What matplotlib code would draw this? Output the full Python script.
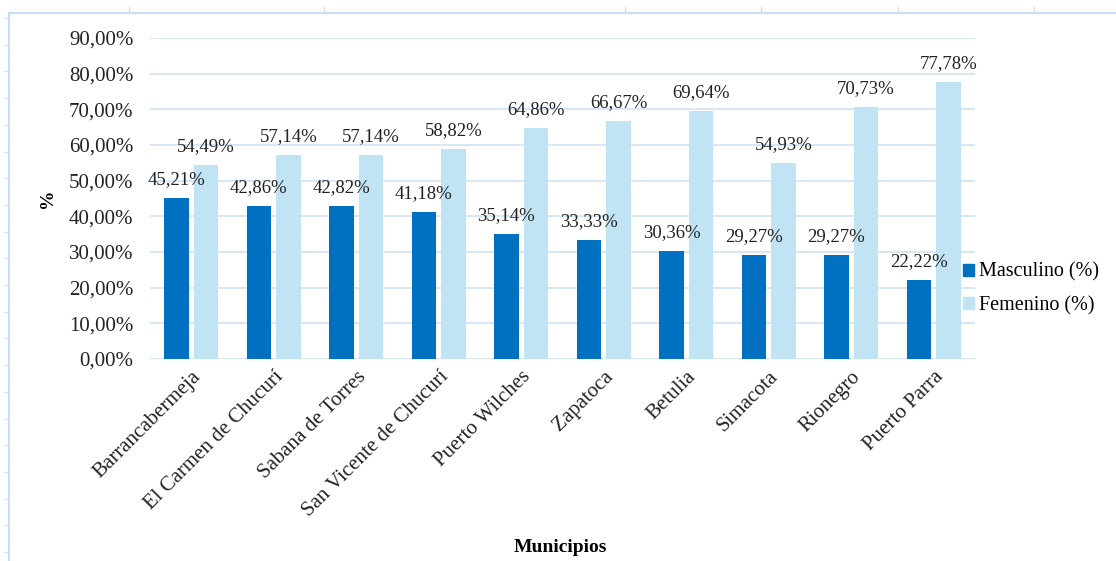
import matplotlib
matplotlib.use("Agg")
import matplotlib.pyplot as plt
from matplotlib.lines import Line2D
from matplotlib.patches import Patch
import numpy as np

municipios = ["Barrancabermeja", "El Carmen de Chucurí", "Sabana de Torres",
              "San Vicente de Chucurí", "Puerto Wilches", "Zapatoca", "Betulia",
              "Simacota", "Rionegro", "Puerto Parra"]
masculino = [45.21, 42.86, 42.82, 41.18, 35.14, 33.33, 30.36, 29.27, 29.27, 22.22]
femenino = [54.49, 57.14, 57.14, 58.82, 64.86, 66.67, 69.64, 54.93, 70.73, 77.78]
yticks = [0, 10, 20, 30, 40, 50, 60, 70, 80, 90]

c_m = "#0070C0"
c_f = "#C0E4F4"
grid_c = "#D6E4F4"

plt.rcParams['font.family'] = ['Liberation Serif', 'DejaVu Serif']

fig = plt.figure(figsize=(11.16, 5.61), dpi=100)
ax = fig.add_axes([150/1116, 1-359/561, (975-150)/1116, (359-38)/561])

x = np.arange(len(municipios))
w = 0.30
gap = 0.06
ax.bar(x - (w+gap)/2, masculino, w, color=c_m, zorder=3)
ax.bar(x + (w+gap)/2, femenino, w, color=c_f, zorder=3)

def fmt(v):
    return f"{v:.2f}%".replace(".", ",")

for xi, v in zip(x, masculino):
    ax.annotate(fmt(v), (xi - (w+gap)/2, v), xytext=(0, 7), textcoords="offset points",
                ha="center", va="bottom", fontsize=13.5, color="#222222", zorder=5)
for xi, v in zip(x, femenino):
    ax.annotate(fmt(v), (xi + (w+gap)/2, v), xytext=(0, 7), textcoords="offset points",
                ha="center", va="bottom", fontsize=13.5, color="#222222", zorder=5)

ax.set_xlim(-0.5, len(municipios) - 0.5)
ax.set_ylim(0, 90)
ax.set_yticks(yticks)
ax.set_yticklabels([f"{t:.2f}%".replace(".", ",") for t in yticks], fontsize=15, color="#222222")
ax.set_xticks(x)
ax.set_xticklabels(municipios, rotation=45, ha="right", rotation_mode="anchor", fontsize=15, color="#222222")
ax.tick_params(axis="y", length=0, pad=12)
ax.tick_params(axis="x", length=0, pad=6)
ax.yaxis.grid(True, color=grid_c, linewidth=1.3, zorder=0)
for s in ax.spines.values():
    s.set_visible(False)
ax.axhline(0, color=grid_c, linewidth=1.3, zorder=1)

ax.set_ylabel("%", fontsize=14, fontweight="bold", labelpad=9)
fig.text(560/1116, 1-547/561, "Municipios", ha="center", va="center", fontsize=14, fontweight="bold")

handles = [Patch(color=c_m, label="Masculino (%)"), Patch(color=c_f, label="Femenino (%)")]
fig.legend(handles=handles, loc="center left", bbox_to_anchor=(945/1116, 1-289/561), frameon=False,
           fontsize=14.5, handlelength=0.55, handleheight=0.55, handletextpad=0.25, labelspacing=0.7)

# outer frame lines (document border)
border = "#C9DDF2"
fig.add_artist(Line2D([9/1116, 1], [1-13/561, 1-13/561], color=border, lw=1.5))
fig.add_artist(Line2D([9/1116, 9/1116], [0, 1-13/561], color=border, lw=1.5))
for tx in [129, 324, 625, 761, 898, 1034]:
    fig.add_artist(Line2D([tx/1116, tx/1116], [1-7/561, 1-13/561], color="#DDDDDD", lw=1))
for ty in np.arange(18, 561, 26.7):
    fig.add_artist(Line2D([4/1116, 9/1116], [1-ty/561, 1-ty/561], color="#E4E4E4", lw=1))

fig.savefig("out.png", dpi=100)
